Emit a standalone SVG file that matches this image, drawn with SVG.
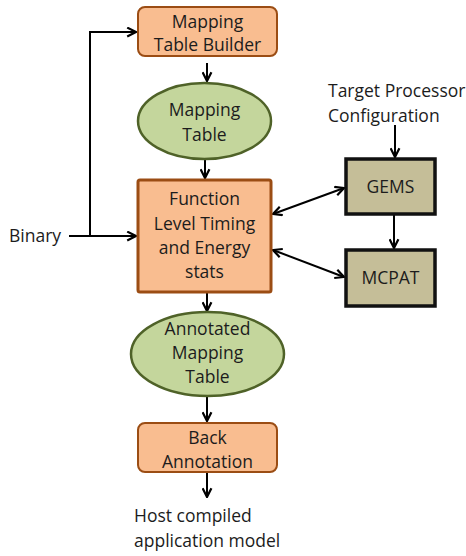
<svg xmlns="http://www.w3.org/2000/svg" width="466" height="556" viewBox="0 0 466 556">
  <style>
    text { font-family: "Open Sans", "DejaVu Sans", sans-serif; font-size: 17.5px; fill: #1c1c1c; }
    .mid { text-anchor: middle; }
    .proc { fill: #f9bd90; stroke: #9b4d14; stroke-width: 2; }
    .proc-main { fill: #f9bd90; stroke: #9b4d14; stroke-width: 3; }
    .data { fill: #c4d69c; stroke: #4f6228; stroke-width: 2.5; }
    .tool { fill: #c5be98; stroke: #111; stroke-width: 3.5; }
    .wire { fill: none; stroke: #000; stroke-width: 2; }
  </style>
  <defs>
    <marker id="head" viewBox="0 0 10 10" refX="9" refY="5" markerWidth="5.5" markerHeight="5.5" orient="auto-start-reverse" markerUnits="strokeWidth">
      <path d="M1,1 L9,5 L1,9" fill="none" stroke="#000" stroke-width="2"/>
    </marker>
  </defs>

  <!-- connectors -->
  <g id="connectors">
    <path class="wire" d="M69,236 H136" marker-end="url(#head)"/>
    <path class="wire" d="M90,236 V32 H136" marker-end="url(#head)"/>
    <path class="wire" d="M207,63 V81" marker-end="url(#head)"/>
    <path class="wire" d="M205,159 V178" marker-end="url(#head)"/>
    <path class="wire" d="M273,214 L344,188" marker-start="url(#head)" marker-end="url(#head)"/>
    <path class="wire" d="M273,250 L344,277" marker-start="url(#head)" marker-end="url(#head)"/>
    <path class="wire" d="M395,125 V157" marker-end="url(#head)"/>
    <path class="wire" d="M394,214 V248" marker-end="url(#head)"/>
    <path class="wire" d="M207,293 V311" marker-end="url(#head)"/>
    <path class="wire" d="M207,396 V421" marker-end="url(#head)"/>
    <path class="wire" d="M207,473 V497" marker-end="url(#head)"/>
  </g>

  <g id="mapping-table-builder">
    <rect class="proc" x="138" y="7" width="139" height="49" rx="7"/>
    <text class="mid" x="207.5" y="28">Mapping</text>
    <text class="mid" x="207.5" y="51">Table Builder</text>
  </g>

  <g id="mapping-table">
    <ellipse class="data" cx="204.5" cy="121" rx="66.5" ry="38"/>
    <text class="mid" x="204.5" y="116">Mapping</text>
    <text class="mid" x="204.5" y="141">Table</text>
  </g>

  <g id="timing-energy">
    <rect class="proc-main" x="138" y="180" width="133" height="112" rx="2"/>
    <text class="mid" x="204.5" y="205">Function</text>
    <text class="mid" x="204.5" y="230">Level Timing</text>
    <text class="mid" x="204.5" y="254">and Energy</text>
    <text class="mid" x="204.5" y="278">stats</text>
  </g>

  <g id="gems">
    <rect class="tool" x="346" y="159" width="89" height="55"/>
    <text class="mid" x="390.5" y="193">GEMS</text>
  </g>

  <g id="mcpat">
    <rect class="tool" x="346" y="250" width="89" height="56"/>
    <text class="mid" x="390.5" y="284">MCPAT</text>
  </g>

  <g id="annotated-mapping-table">
    <ellipse class="data" cx="207.5" cy="354" rx="76.5" ry="42"/>
    <text class="mid" x="207.5" y="335">Annotated</text>
    <text class="mid" x="207.5" y="359">Mapping</text>
    <text class="mid" x="207.5" y="383">Table</text>
  </g>

  <g id="back-annotation">
    <rect class="proc" x="138" y="423" width="139" height="49" rx="7"/>
    <text class="mid" x="207.5" y="444">Back</text>
    <text class="mid" x="207.5" y="468">Annotation</text>
  </g>

  <g id="binary">
    <text x="9" y="242">Binary</text>
  </g>

  <g id="target-config">
    <text x="328" y="97">Target Processor</text>
    <text x="328" y="122">Configuration</text>
  </g>

  <g id="host-model">
    <text x="134" y="522">Host compiled</text>
    <text x="134" y="547">application model</text>
  </g>
</svg>
